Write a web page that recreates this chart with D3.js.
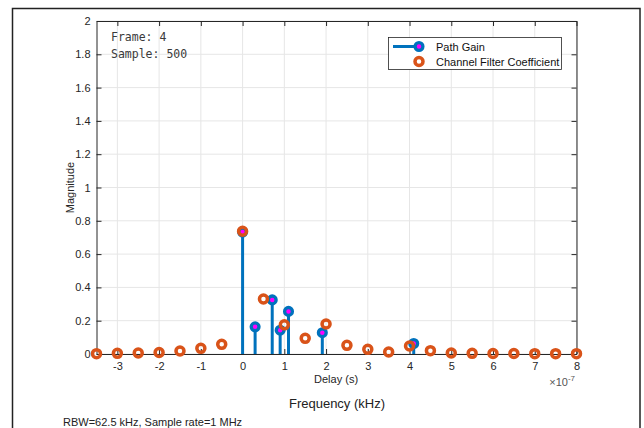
<!DOCTYPE html>
<html>
<head>
<meta charset="utf-8">
<script src="https://cdn.jsdelivr.net/npm/d3@7"></script>
<style>
  html, body { margin: 0; padding: 0; background: #fff; }
  svg { display: block; font-family: "Liberation Sans", Arial, Helvetica, sans-serif; }
</style>
</head>
<body>
<svg id="chart" width="644" height="428"></svg>
<script>
// Channel filter coefficients, sampled every 0.5 × 1e-7 s
const filterDelays = [-3.5, -3, -2.5, -2, -1.5, -1, -0.5, 0, 0.5, 1, 1.5, 2,
                      2.5, 3, 3.5, 4, 4.5, 5, 5.5, 6, 6.5, 7, 7.5, 8];
const filterMagnitude = [0.002, 0.004, 0.006, 0.009, 0.018, 0.034, 0.058, 0.737,
                         0.33, 0.175, 0.094, 0.18, 0.052, 0.028, 0.012, 0.048,
                         0.02, 0.006, 0.004, 0.003, 0.003, 0.002, 0.002, 0.002];

// Multipath components (delay in units of 1e-7 s)
const pathDelays = [0, 0.30, 0.71, 0.90, 1.10, 1.91, 4.10];
const pathGains  = [0.733, 0.163, 0.325, 0.143, 0.256, 0.128, 0.063];

const xTicks = [-3, -2, -1, 0, 1, 2, 3, 4, 5, 6, 7, 8];
const yTicks = [0, 0.2, 0.4, 0.6, 0.8, 1, 1.2, 1.4, 1.6, 1.8, 2];
const yTickLabels = ["0", "0.2", "0.4", "0.6", "0.8", "1", "1.2", "1.4", "1.6", "1.8", "2"];

const BLUE = "#0072BD", ORANGE = "#D95319", MAGENTA = "#FF00FF";
const AXIS = "#262626", GRID = "#e6e6e6";

const svg = d3.select("#chart");
const box = { left: 96.5, right: 576.5, top: 21, bottom: 354 };

const x = d3.scaleLinear().domain([-3.5, 8]).range([box.left, box.right]);
const y = d3.scaleLinear().domain([0, 2]).range([box.bottom, box.top]);

// outer panel frame
svg.append("rect").attr("x", 12.5).attr("y", 8.5).attr("width", 627.5).attr("height", 430)
  .attr("fill", "none").attr("stroke", "#222").attr("stroke-width", 1.5);

// grid
const grid = svg.append("g");
grid.selectAll("line.gx").data(xTicks).join("line")
  .attr("x1", d => x(d)).attr("x2", d => x(d))
  .attr("y1", box.top).attr("y2", box.bottom)
  .attr("stroke", GRID).attr("stroke-width", 1);
grid.selectAll("line.gy").data(yTicks).join("line")
  .attr("y1", d => y(d)).attr("y2", d => y(d))
  .attr("x1", box.left).attr("x2", box.right)
  .attr("stroke", GRID).attr("stroke-width", 1);

// axes with inward ticks on all four sides
const fmtY = (d, i) => yTickLabels[i];
const axB = svg.append("g").attr("transform", `translate(0,${box.bottom})`)
  .call(d3.axisBottom(x).tickValues(xTicks).tickSizeInner(-5).tickSizeOuter(0).tickPadding(8).tickFormat(d3.format("d")));
const axT = svg.append("g").attr("transform", `translate(0,${box.top})`)
  .call(d3.axisTop(x).tickValues(xTicks).tickSizeInner(-5).tickSizeOuter(0).tickFormat(""));
const axL = svg.append("g").attr("transform", `translate(${box.left},0)`)
  .call(d3.axisLeft(y).tickValues(yTicks).tickSizeInner(-5).tickSizeOuter(0).tickPadding(6).tickFormat(fmtY));
const axR = svg.append("g").attr("transform", `translate(${box.right},0)`)
  .call(d3.axisRight(y).tickValues(yTicks).tickSizeInner(-5).tickSizeOuter(0).tickFormat(""));

[axB, axT, axL, axR].forEach(a => {
  a.select(".domain").attr("stroke", AXIS).attr("stroke-width", 1);
  a.selectAll(".tick line").attr("stroke", AXIS);
  a.selectAll(".tick text").attr("fill", AXIS).attr("font-size", 11)
    .attr("font-family", "'Liberation Sans', Arial, sans-serif");
});
axB.selectAll(".tick text").text(d => d < 0 ? "-" + Math.abs(d) : d);

// exponent marker
const expo = svg.append("text").attr("x", 575).attr("y", 386).attr("text-anchor", "end")
  .attr("fill", "#555").attr("font-size", 11);
expo.append("tspan").text("\u00d710");
expo.append("tspan").attr("dy", -5).attr("font-size", 8).text("-7");

// axis labels
svg.append("text").attr("x", x(2)+10).attr("y", 383).attr("text-anchor", "middle")
  .attr("font-size", 11).attr("fill", AXIS).text("Delay (s)");
svg.append("text").attr("transform", `translate(74,${(box.top+box.bottom)/2}) rotate(-90)`)
  .attr("text-anchor", "middle").attr("font-size", 11).attr("fill", AXIS).text("Magnitude");
svg.append("text").attr("x", 337).attr("y", 408).attr("text-anchor", "middle")
  .attr("font-size", 13).attr("fill", "#222").text("Frequency (kHz)");
svg.append("text").attr("x", 63).attr("y", 426)
  .attr("font-size", 11).attr("fill", "#222").text("RBW=62.5 kHz, Sample rate=1 MHz");

// stems for path gains
const plot = svg.append("g");
const paths = pathDelays.map((d, i) => ({ d, g: pathGains[i] }));
plot.selectAll("line.stem").data(paths).join("line")
  .attr("x1", p => x(p.d)).attr("x2", p => x(p.d))
  .attr("y1", y(0)).attr("y2", p => y(p.g))
  .attr("stroke", BLUE).attr("stroke-width", 3);
plot.selectAll("circle.pg").data(paths).join("circle")
  .attr("cx", p => x(p.d)).attr("cy", p => y(p.g)).attr("r", 3.9)
  .attr("fill", MAGENTA).attr("stroke", BLUE).attr("stroke-width", 3.3);

// channel filter coefficients as hollow rings
const coefs = filterDelays.map((d, i) => ({ d, m: filterMagnitude[i] }));
plot.selectAll("circle.cf").data(coefs).join("circle")
  .attr("cx", c => x(c.d)).attr("cy", c => y(c.m)).attr("r", 4)
  .attr("fill", "none").attr("stroke", ORANGE).attr("stroke-width", 3.5);

// frame / sample annotation
const ann = svg.append("g").attr("font-family", "'DejaVu Sans Mono', 'Liberation Mono', monospace")
  .attr("font-size", 11.5).attr("fill", "#3a3a3a");
ann.append("text").attr("x", 111).attr("y", 41).text("Frame: 4");
ann.append("text").attr("x", 111).attr("y", 58).text("Sample: 500");

// legend
const lg = svg.append("g");
lg.append("rect").attr("x", 388.5).attr("y", 37.5).attr("width", 173).attr("height", 32)
  .attr("fill", "#fff").attr("stroke", "#262626").attr("stroke-width", 0.8);
lg.append("line").attr("x1", 393).attr("x2", 419).attr("y1", 46.5).attr("y2", 46.5)
  .attr("stroke", BLUE).attr("stroke-width", 3);
lg.append("circle").attr("cx", 419).attr("cy", 46.5).attr("r", 3.9)
  .attr("fill", MAGENTA).attr("stroke", BLUE).attr("stroke-width", 3.3);
lg.append("circle").attr("cx", 419).attr("cy", 61.5).attr("r", 4)
  .attr("fill", "none").attr("stroke", ORANGE).attr("stroke-width", 3.5);
lg.append("text").attr("x", 436).attr("y", 50.5).attr("font-size", 11).attr("fill", "#111").text("Path Gain");
lg.append("text").attr("x", 436).attr("y", 65.5).attr("font-size", 11).attr("fill", "#111").text("Channel Filter Coefficient");
</script>
</body>
</html>
